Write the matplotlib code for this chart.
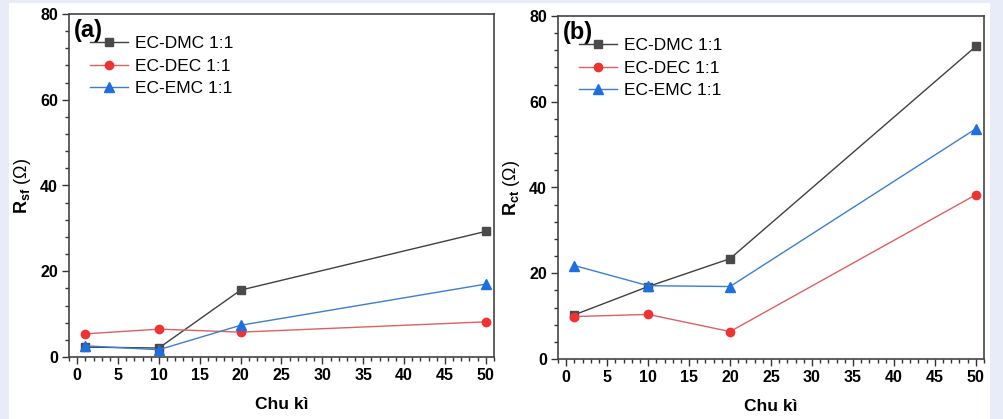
import matplotlib
matplotlib.use('Agg')
import matplotlib.pyplot as plt
import matplotlib.patches as mpatches
from matplotlib.ticker import MultipleLocator

plt.rcParams['font.family'] = ['Liberation Sans', 'DejaVu Sans']
plt.rcParams['mathtext.fontset'] = 'custom'
plt.rcParams['mathtext.rm'] = 'Liberation Sans'
plt.rcParams['mathtext.bf'] = 'Liberation Sans:bold'
plt.rcParams['mathtext.it'] = 'Liberation Sans:italic'

### data
cycles = [1, 10, 20, 50]
series_names = ['EC-DMC 1:1', 'EC-DEC 1:1', 'EC-EMC 1:1']

rsf_dmc = [2.3, 2.1, 15.6, 29.3]
rsf_dec = [5.4, 6.5, 5.8, 8.2]
rsf_emc = [2.6, 1.7, 7.4, 17.0]

rct_dmc = [10.3, 16.9, 23.4, 72.9]
rct_dec = [9.9, 10.4, 6.4, 38.3]
rct_emc = [21.8, 17.1, 16.9, 53.7]

xticks = [0, 5, 10, 15, 20, 25, 30, 35, 40, 45, 50]
yticks = [0, 20, 40, 60, 80]

### styles
line_colors = ['#404040', '#e06060', '#3b7fd0']
marker_colors = ['#4a4a4a', '#ee3333', '#1f6fe0']
markers = ['s', 'o', '^']
msizes = [5.5, 6, 6.5]

W, H = 1004, 419
fig = plt.figure(figsize=(W/100, H/100), dpi=100)
fig.patch.set_facecolor('#e7ecf8')
fig.patches.append(mpatches.Rectangle((9/W, 0), (990-9)/W, (H-3)/H,
                                      transform=fig.transFigure, fc='white', ec='none', zorder=-1))

def make_panel(rect, data, ylabel, tag):
    ax = fig.add_axes(rect)
    for i, ys in enumerate(data):
        ax.plot(cycles, ys, color=line_colors[i], lw=1.0, marker=markers[i],
                ms=msizes[i], mfc=marker_colors[i], mec=marker_colors[i],
                label=series_names[i], clip_on=False, zorder=3)
    ax.set_xlim(-1, 51)
    ax.set_ylim(0, 80)
    ax.set_xticks(xticks)
    ax.set_yticks(yticks)
    ax.xaxis.set_minor_locator(MultipleLocator(1))
    ax.yaxis.set_minor_locator(MultipleLocator(4))
    ax.tick_params(which='both', direction='out', top=False, right=False,
                   color='#333333', width=1)
    ax.tick_params(which='major', length=5, labelsize=11.5, pad=3)
    ax.tick_params(which='minor', length=3)
    for lab in ax.get_xticklabels() + ax.get_yticklabels():
        lab.set_fontweight('bold')
    for sp in ax.spines.values():
        sp.set_color('#444444')
        sp.set_linewidth(1.2)
    ax.set_xlabel('Chu kì', fontsize=12.5, fontweight='bold', labelpad=10)
    ax.set_ylabel(ylabel, fontsize=13, labelpad=5)
    ax.text(0.012, 0.985, tag, transform=ax.transAxes, fontsize=17,
            fontweight='bold', va='top', ha='left')
    ax.legend(loc='upper left', bbox_to_anchor=(0.05, 0.935), frameon=False,
              fontsize=12.5, handlelength=2.2, handletextpad=0.35,
              labelspacing=0.42, borderpad=0, borderaxespad=0)
    return ax

make_panel([69/W, 1-357/H, 425/W, 343/H], [rsf_dmc, rsf_dec, rsf_emc],
           r'$\mathbf{R}_{\mathbf{sf}}$ ($\Omega$)', '(a)')
make_panel([558/W, 1-359/H, 426/W, 343/H], [rct_dmc, rct_dec, rct_emc],
           r'$\mathbf{R}_{\mathbf{ct}}$ ($\Omega$)', '(b)')

plt.savefig('out.png', dpi=100, facecolor=fig.get_facecolor())
plt.close()
